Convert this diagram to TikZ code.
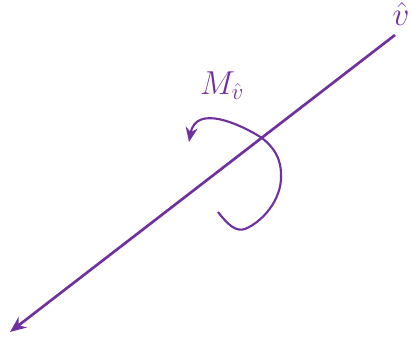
\documentclass[tikz,border=0pt]{standalone}
\usepackage{amsmath}
\usetikzlibrary{arrows.meta}
\definecolor{violet}{HTML}{7030A0}
\tikzset{
  axisline/.style={
    -{Stealth[length=12pt,width=10pt]}, line width=2pt, color=violet
  },
  momentline/.style={
    -{Stealth[length=11pt,width=9pt]}, line width=1.6pt, color=violet
  },
  mathlabel/.style={
    font=\fontsize{25}{30}\selectfont, color=violet, inner sep=0pt
  },
}
\begin{document}
\begin{tikzpicture}[x=0.75pt,y=-0.75pt]
  \useasboundingbox (0,0) rectangle (411,341);
  % axis
  \coordinate (vtail) at (395,35);
  \coordinate (vhead) at (10,332);
  \draw[axisline] (vtail) -- (vhead);
  \node[mathlabel] (vlabel) at (401,14) {$\hat{v}$};

  % moment about the axis
  \draw[momentline] (218,212) .. controls (228,225) and (236,232) .. (245,229)
    .. controls (262,222) and (282,200) .. (281,175)
    .. controls (281,157) and (273,147) .. (262,138)
    .. controls (240,124) and (196,104) .. (189,142);
  \node[mathlabel] (mlabel) at (222,86) {$M_{\hat{v}}$};
\end{tikzpicture}
\end{document}
